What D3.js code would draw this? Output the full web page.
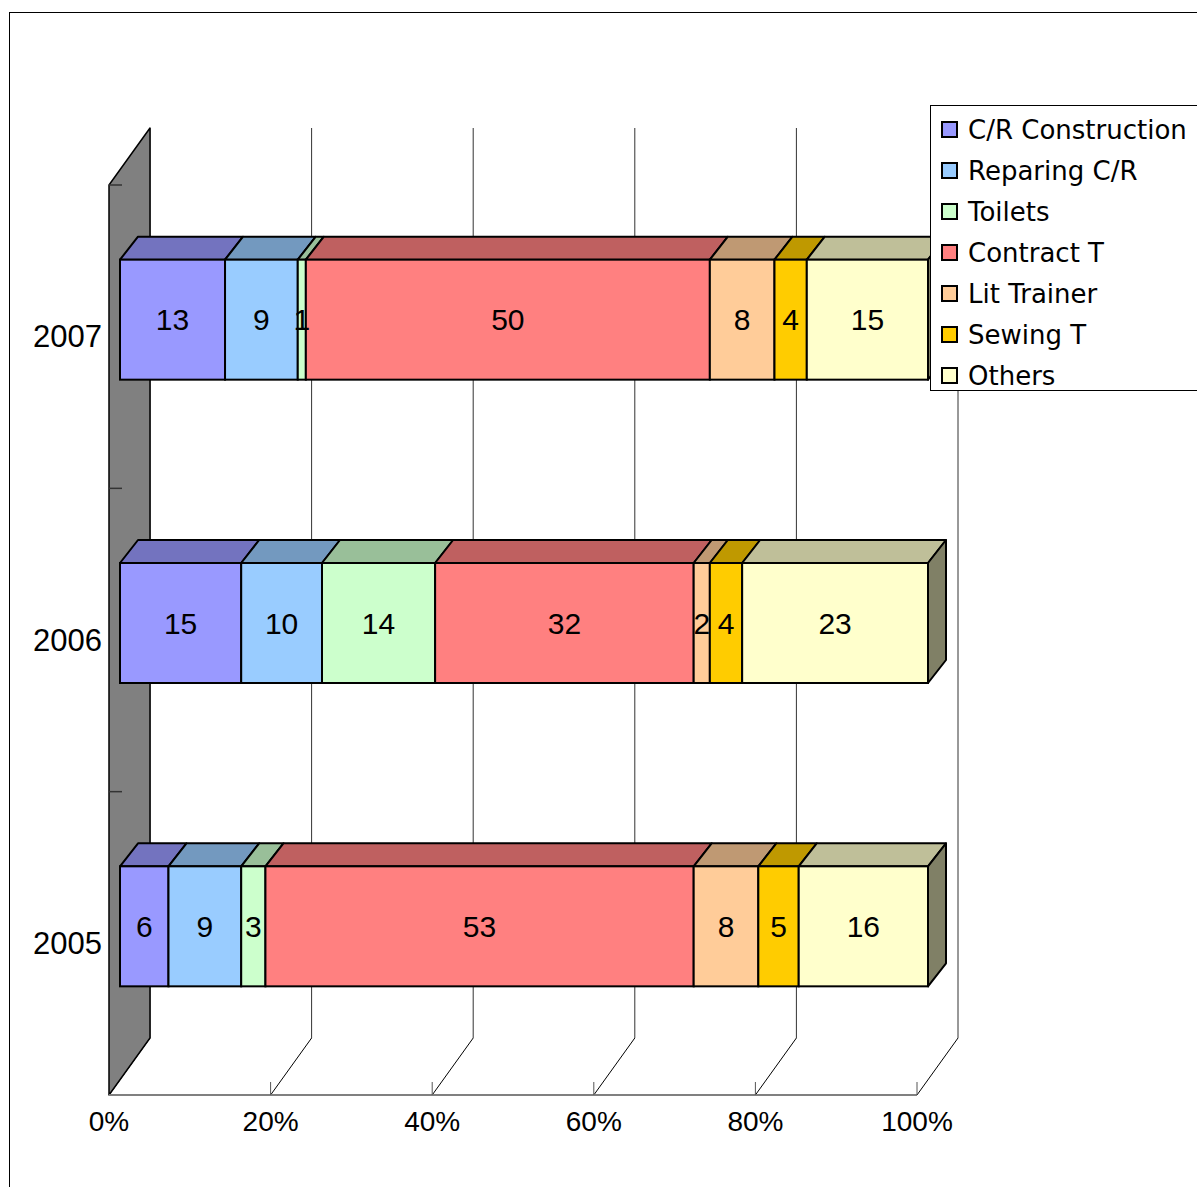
<!DOCTYPE html>
<html>
<head>
<meta charset="utf-8">
<script src="https://cdn.jsdelivr.net/npm/d3@7/dist/d3.min.js"></script>
<style>
  html, body { margin: 0; padding: 0; background: #fff; }
  svg { display: block; }
</style>
</head>
<body>
<svg id="chart" width="1197" height="1187"></svg>
<script>
// Categories (drawn top to bottom) and series
const years = ["2007", "2006", "2005"];
const seriesNames = ["C/R Construction", "Reparing C/R", "Toilets", "Contract T", "Lit Trainer", "Sewing T", "Others"];
const seriesColors = ["#9999FF", "#99CCFF", "#CCFFCC", "#FF8080", "#FFCC99", "#FFCC00", "#FFFFCC"];

// Percentage values per series, in the order of `years`
const crConstruction = [13, 15, 6];
const reparingCR     = [9, 10, 9];
const toilets        = [1, 14, 3];
const contractT      = [50, 32, 53];
const litTrainer     = [8, 2, 8];
const sewingT        = [4, 4, 5];
const others         = [15, 23, 16];

const xTickValues = [0, 20, 40, 60, 80, 100];
const xTickLabels = ["0%", "20%", "40%", "60%", "80%", "100%"];

const seriesValues = [crConstruction, reparingCR, toilets, contractT, litTrainer, sewingT, others];

const svg = d3.select("#chart");

// Chart area frame
svg.append("rect")
  .attr("x", 9.5).attr("y", 12.5)
  .attr("width", 1300).attr("height", 1300)
  .attr("fill", "#fff").attr("stroke", "#000").attr("stroke-width", 1);

// Front plane of the 3D plot box
const x = d3.scaleLinear().domain([0, 100]).range([109, 917]);
const y = d3.scaleBand().domain(years).range([185, 1095]).padding(0);

// Depth of the plot box (back wall offset) and of the bars
const wallDX = 41, wallDY = -57;
const barOffX = 11, barOffY = -17;     // bar front plane inside the box
const barDX = 18, barDY = -23;         // bar thickness
const barH = 120;

const plotTop = y.range()[0], plotBottom = y.range()[1];

// Back-wall vertical gridlines
svg.append("g").selectAll("line")
  .data(xTickValues)
  .join("line")
  .attr("x1", d => x(d) + wallDX).attr("x2", d => x(d) + wallDX)
  .attr("y1", plotTop + wallDY).attr("y2", plotBottom + wallDY)
  .attr("stroke", "#333").attr("stroke-width", 1);

// Floor diagonals from each tick to the back wall
svg.append("g").selectAll("line")
  .data(xTickValues)
  .join("line")
  .attr("x1", d => x(d)).attr("y1", plotBottom)
  .attr("x2", d => x(d) + wallDX).attr("y2", plotBottom + wallDY)
  .attr("stroke", "#000").attr("stroke-width", 1);

// Left side wall
svg.append("path")
  .attr("d", d3.line()([
    [x(0), plotTop], [x(0) + wallDX, plotTop + wallDY],
    [x(0) + wallDX, plotBottom + wallDY], [x(0), plotBottom]
  ]) + "Z")
  .attr("fill", "#808080").attr("stroke", "#000").attr("stroke-width", 1.5)
  .attr("stroke-linejoin", "round");

// Category axis ticks on the wall edge
svg.append("g").selectAll("line")
  .data([plotTop, y("2006"), y("2005")])
  .join("line")
  .attr("x1", x(0)).attr("x2", x(0) + 13)
  .attr("y1", d => d).attr("y2", d => d)
  .attr("stroke", "#333").attr("stroke-width", 1.5);

// Value axis baseline and ticks
svg.append("line")
  .attr("x1", x(0)).attr("x2", x(100))
  .attr("y1", plotBottom).attr("y2", plotBottom)
  .attr("stroke", "#808080").attr("stroke-width", 2);
svg.append("g").selectAll("line")
  .data(xTickValues.slice(1))
  .join("line")
  .attr("x1", d => x(d)).attr("x2", d => x(d))
  .attr("y1", plotBottom - 13).attr("y2", plotBottom)
  .attr("stroke", "#555").attr("stroke-width", 1);

// Value axis labels
svg.append("g").selectAll("text")
  .data(xTickValues)
  .join("text")
  .attr("x", d => x(d)).attr("y", 1121)
  .attr("text-anchor", "middle").attr("dominant-baseline", "central")
  .attr("font-family", "'Liberation Sans', Arial, sans-serif")
  .attr("font-size", 28)
  .text((d, i) => xTickLabels[i]);

// Category labels
svg.append("g").selectAll("text")
  .data(years)
  .join("text")
  .attr("x", 102).attr("y", d => y(d) + y.bandwidth() / 2)
  .attr("text-anchor", "end").attr("dominant-baseline", "central")
  .attr("font-family", "'Liberation Sans', Arial, sans-serif")
  .attr("font-size", 31)
  .text(d => d);

// Stacked bars
const shade = (c, k) => {
  const col = d3.rgb(c);
  return d3.rgb(col.r * k, col.g * k, col.b * k).formatHex();
};

years.forEach((yr, yi) => {
  const g = svg.append("g");
  const y0 = y(yr) + y.bandwidth() / 2 + barOffY - barH / 2;
  const y1 = y0 + barH;
  let cum = 0;
  const segs = seriesValues.map((vals, si) => {
    const s = { si, v: vals[yi], a: cum, b: cum + vals[yi] };
    cum += vals[yi];
    return s;
  });

  // top faces
  segs.forEach(s => {
    const xa = x(s.a) + barOffX, xb = x(s.b) + barOffX;
    g.append("path")
      .attr("d", d3.line()([[xa, y0], [xb, y0], [xb + barDX, y0 + barDY], [xa + barDX, y0 + barDY]]) + "Z")
      .attr("fill", shade(seriesColors[s.si], 0.75))
      .attr("stroke", "#000").attr("stroke-width", 2).attr("stroke-linejoin", "round");
  });

  // right side face of the last segment
  const last = segs[segs.length - 1];
  const xr = x(last.b) + barOffX;
  g.append("path")
    .attr("d", d3.line()([[xr, y0], [xr + barDX, y0 + barDY], [xr + barDX, y1 + barDY], [xr, y1]]) + "Z")
    .attr("fill", shade(seriesColors[last.si], 0.5))
    .attr("stroke", "#000").attr("stroke-width", 2).attr("stroke-linejoin", "round");

  // front faces
  segs.forEach(s => {
    const xa = x(s.a) + barOffX, xb = x(s.b) + barOffX;
    g.append("rect")
      .attr("x", xa).attr("y", y0)
      .attr("width", xb - xa).attr("height", barH)
      .attr("fill", seriesColors[s.si])
      .attr("stroke", "#000").attr("stroke-width", 2);
  });

  // value labels
  segs.forEach(s => {
    const xa = x(s.a) + barOffX, xb = x(s.b) + barOffX;
    g.append("text")
      .attr("x", (xa + xb) / 2).attr("y", (y0 + y1) / 2)
      .attr("text-anchor", "middle").attr("dominant-baseline", "central")
      .attr("font-family", "'Liberation Sans', Arial, sans-serif")
      .attr("font-size", 30)
      .text(s.v);
  });
});

// Legend
const legend = svg.append("g");
legend.append("rect")
  .attr("x", 930.5).attr("y", 105.5)
  .attr("width", 300).attr("height", 285)
  .attr("fill", "#fff").attr("stroke", "#000").attr("stroke-width", 1);

const rows = legend.selectAll("g.row")
  .data(seriesNames)
  .join("g").attr("class", "row")
  .attr("transform", (d, i) => `translate(0, ${130 + i * 41})`);
rows.append("rect")
  .attr("x", 942).attr("y", -8)
  .attr("width", 15).attr("height", 15)
  .attr("fill", (d, i) => seriesColors[i])
  .attr("stroke", "#000").attr("stroke-width", 2);
rows.append("text")
  .attr("x", 968).attr("y", 0)
  .attr("dominant-baseline", "central")
  .attr("font-family", "'DejaVu Sans', sans-serif")
  .attr("font-size", 26)
  .text(d => d);
</script>
</body>
</html>
